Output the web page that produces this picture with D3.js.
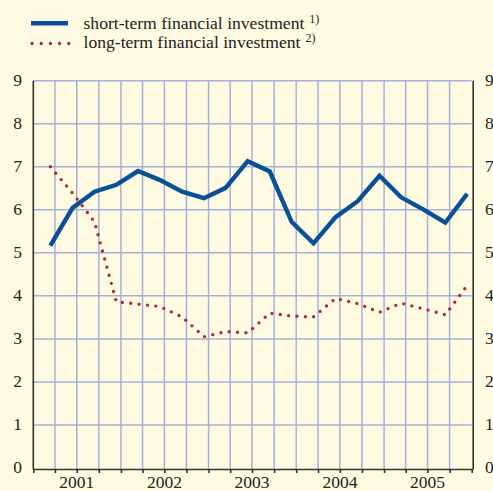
<!DOCTYPE html>
<html>
<head>
<meta charset="utf-8">
<script src="https://cdn.jsdelivr.net/npm/d3@7/dist/d3.min.js"></script>
<style>
  html, body { margin: 0; padding: 0; background: #fffbe2; }
  svg { display: block; }
  text { font-family: "Liberation Serif", "Times New Roman", serif; fill: #222; }
</style>
</head>
<body>
<svg id="chart" width="493" height="491"></svg>
<script>
// ---- data ----
const quarters = ["2001Q1","2001Q2","2001Q3","2001Q4","2002Q1","2002Q2","2002Q3","2002Q4",
                  "2003Q1","2003Q2","2003Q3","2003Q4","2004Q1","2004Q2","2004Q3","2004Q4",
                  "2005Q1","2005Q2","2005Q3","2005Q4"];
const shortTerm = [5.17, 6.04, 6.42, 6.58, 6.90, 6.69, 6.42, 6.27, 6.51, 7.13,
                   6.89, 5.72, 5.22, 5.83, 6.20, 6.79, 6.29, 6.01, 5.70, 6.37];
const longTerm  = [7.00, 6.39, 5.72, 3.86, 3.81, 3.75, 3.51, 3.05, 3.17, 3.14,
                   3.60, 3.53, 3.51, 3.94, 3.82, 3.62, 3.83, 3.70, 3.56, 4.24];
const years = [2001, 2002, 2003, 2004, 2005];
const yTicks = [0, 1, 2, 3, 4, 5, 6, 7, 8, 9];
const seriesNames = ["short-term financial investment", "long-term financial investment"];
const seriesNotes = ["1)", "2)"];

// ---- layout ----
const svg = d3.select("#chart");
const pLeft = 33.3, pRight = 471.7, pTop = 80.7, pBottom = 468;
const blue = "#0a5098", red = "#a8302c", grid = "#a6b0dc";

const parseQ = s => new Date(+s.slice(0, 4), (+s.slice(5) - 1) * 3 + 2, 13);
const x = d3.scaleTime()
  .domain([new Date(2001, 0, 1), new Date(2006, 0, 1)])
  .range([pLeft, pRight]);
const y = d3.scaleLinear().domain([0, 9]).range([pBottom, pTop]);

const qBounds = d3.timeMonth.every(3).range(new Date(2001, 0, 1), new Date(2006, 0, 2));

// gridlines
const g = svg.append("g");
g.selectAll("line.h").data(yTicks.filter(d => d > 0)).join("line").attr("class", "h")
  .attr("x1", pLeft).attr("x2", pRight)
  .attr("y1", d => y(d)).attr("y2", d => y(d))
  .attr("stroke", grid).attr("stroke-width", 1.5);
g.selectAll("line.v").data(qBounds.slice(1, -1)).join("line").attr("class", "v")
  .attr("x1", d => x(d)).attr("x2", d => x(d))
  .attr("y1", pTop).attr("y2", pBottom + 1)
  .attr("stroke", grid).attr("stroke-width", 1.5);

// axes frame
const ax = svg.append("g").attr("stroke", "#333").attr("stroke-width", 1.6).attr("fill", "none");
ax.append("line").attr("x1", pLeft).attr("x2", pLeft).attr("y1", pTop).attr("y2", pBottom + 1.5);
ax.append("line").attr("x1", pRight + 1.5).attr("x2", pRight + 1.5).attr("y1", pTop).attr("y2", pBottom + 1.5);
ax.append("line").attr("x1", pLeft).attr("x2", pRight + 1.5).attr("y1", pBottom + 1.5).attr("y2", pBottom + 1.5);
ax.selectAll("line.t").data(qBounds).join("line").attr("class", "t")
  .attr("x1", d => x(d) + 0.5).attr("x2", d => x(d) + 0.5)
  .attr("y1", pBottom + 1.5).attr("y2", pBottom + 5);

// y labels
svg.selectAll("text.yl").data(yTicks).join("text").attr("class", "yl")
  .attr("x", 22).attr("y", d => y(d) + 5)
  .attr("text-anchor", "end").attr("font-size", 17.5).text(d => d);
svg.selectAll("text.yr").data(yTicks).join("text").attr("class", "yr")
  .attr("x", 485).attr("y", d => y(d) + 5)
  .attr("text-anchor", "start").attr("font-size", 17.5).text(d => d);

// x labels
svg.selectAll("text.xl").data(years).join("text").attr("class", "xl")
  .attr("x", d => x(new Date(d, 6, 1))).attr("y", 487.5)
  .attr("text-anchor", "middle").attr("font-size", 17.5).text(d => d);

// lines
const pts = arr => arr.map((v, i) => [x(parseQ(quarters[i])), y(v)]);
const line = d3.line();
svg.append("path").attr("d", line(pts(longTerm)))
  .attr("fill", "none").attr("stroke", red).attr("stroke-width", 3.4)
  .attr("stroke-linecap", "round").attr("stroke-dasharray", "0 8.4");
svg.append("path").attr("d", line(pts(shortTerm)))
  .attr("fill", "none").attr("stroke", blue).attr("stroke-width", 4.4)
  .attr("stroke-linejoin", "miter");

// legend
const lg = svg.append("g");
lg.append("line").attr("x1", 31).attr("x2", 68).attr("y1", 23.3).attr("y2", 23.3)
  .attr("stroke", blue).attr("stroke-width", 4.4);
lg.append("line").attr("x1", 32).attr("x2", 70).attr("y1", 43.5).attr("y2", 43.5)
  .attr("stroke", red).attr("stroke-width", 3.4)
  .attr("stroke-linecap", "round").attr("stroke-dasharray", "0 9.2");
[28.5, 48].forEach((by, i) => {
  const t = lg.append("text").attr("x", 83.5).attr("y", by).attr("font-size", 17.6);
  t.append("tspan").text(seriesNames[i]);
  t.append("tspan").attr("dx", 5).attr("dy", -6).attr("font-size", 12).text(seriesNotes[i]);
});
</script>
</body>
</html>
